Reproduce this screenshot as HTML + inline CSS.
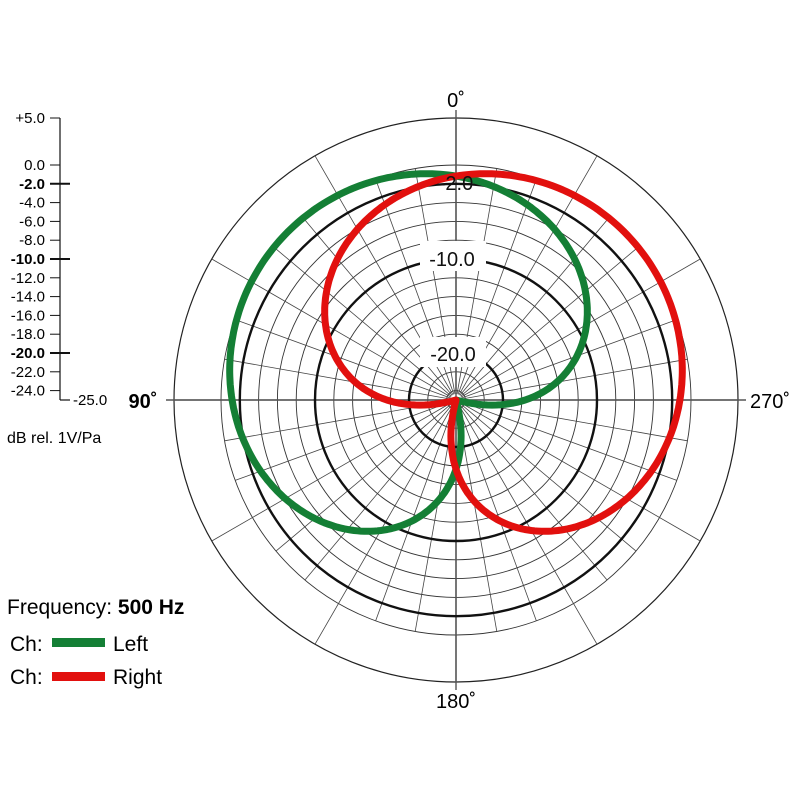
<!DOCTYPE html>
<html><head><meta charset="utf-8"><style>
html,body{margin:0;padding:0;background:#fff;width:800px;height:800px;overflow:hidden}
svg{display:block;font-family:"Liberation Sans",sans-serif}
</style></head><body>
<svg id="s" width="800" height="800" viewBox="0 0 800 800" xmlns="http://www.w3.org/2000/svg"></svg>
<script>
const s=document.getElementById('s');
const cx=456,cy=400,k=9.4,R=282;
let h='';
const rad=d=>(d+25)*k;
for(let d=-24;d<=0;d+=2){
  if(d==-2||d==-10||d==-20)continue;
  h+=`<circle cx="${cx}" cy="${cy}" r="${rad(d)}" fill="none" stroke="#333" stroke-width="0.9"/>`;
}
h+=`<circle cx="${cx}" cy="${cy}" r="${R}" fill="none" stroke="#222" stroke-width="1.2"/>`;
for(let a=0;a<360;a+=10){
  const t=a*Math.PI/180, r0=6, r1=(a%30==0)?R:rad(0);
  h+=`<line x1="${cx+r0*Math.sin(t)}" y1="${cy-r0*Math.cos(t)}" x2="${cx+r1*Math.sin(t)}" y2="${cy-r1*Math.cos(t)}" stroke="#444" stroke-width="${a%90==0?1.3:0.8}"/>`;
}
h+=`<line x1="${cx-R-8}" y1="${cy}" x2="${cx+R+8}" y2="${cy}" stroke="#555" stroke-width="1.4"/>`;
h+=`<line x1="${cx}" y1="${cy-R-8}" x2="${cx}" y2="${cy+R+8}" stroke="#555" stroke-width="1.4"/>`;
for(const d of [-2,-10,-20])h+=`<circle cx="${cx}" cy="${cy}" r="${rad(d)}" fill="none" stroke="#111" stroke-width="2.4"/>`;
h+=`<rect x="420" y="241" width="66" height="30" fill="#fff"/>`;
h+=`<rect x="420" y="337" width="66" height="30" fill="#fff"/>`;
function pat(t0,col){
  let p='';
  for(let a=0;a<=360;a+=1){
    const t=a*Math.PI/180;
    const g=Math.max(0.5+0.5*Math.cos((a-t0)*Math.PI/180),1e-6);
    let d=0.3+21.5*Math.log10(g); if(d<-25)d=-25;
    const r=rad(d);
    const x=cx-r*Math.sin(t), y=cy-r*Math.cos(t);
    p+=(a?'L':'M')+x.toFixed(1)+' '+y.toFixed(1);
  }
  return `<path d="${p}Z" fill="none" stroke="${col}" stroke-width="7" stroke-linejoin="round"/>`;
}
h+=pat(45,'#147f35');
h+=pat(315,'#e2100e');
h+=`<text x="${cx}" y="190" font-size="20" text-anchor="middle" fill="#111">-2.0</text>`;
h+=`<text x="452" y="266" font-size="20" text-anchor="middle" fill="#111">-10.0</text>`;
h+=`<text x="453" y="361" font-size="20" text-anchor="middle" fill="#111">-20.0</text>`;
h+=`<text x="456" y="107" font-size="20" text-anchor="middle">0˚</text>`;
h+=`<text x="143" y="408" font-size="20" font-weight="bold" text-anchor="middle">90˚</text>`;
h+=`<text x="770" y="408" font-size="20" text-anchor="middle">270˚</text>`;
h+=`<text x="456" y="708" font-size="20" text-anchor="middle">180˚</text>`;
h+=`<line x1="60" y1="118" x2="60" y2="400" stroke="#111" stroke-width="1.2"/>`;
h+=`<line x1="60" y1="400" x2="70" y2="400" stroke="#111" stroke-width="1.2"/>`;
const lab=[[5,'+5.0'],[0,'0.0']];for(let d=-2;d>=-24;d-=2)lab.push([d,d.toFixed(1)]);
for(const [d,t] of lab){
  const y=cy-rad(d), b=(d==-2||d==-10||d==-20);
  h+=`<line x1="50" y1="${y}" x2="${b?70:60}" y2="${y}" stroke="#111" stroke-width="${b?2:1}"/>`;
  h+=`<text x="45" y="${y+5}" font-size="15" text-anchor="end" ${b?'font-weight="bold"':''}>${t}</text>`;
}
h+=`<text x="73" y="405" font-size="15">-25.0</text>`;
h+=`<text x="7" y="443" font-size="16">dB rel. 1V/Pa</text>`;
h+=`<text x="7" y="614" font-size="21">Frequency: <tspan font-weight="bold">500 Hz</tspan></text>`;
h+=`<text x="10" y="651" font-size="21">Ch:</text><rect x="52" y="638" width="53" height="9" fill="#147f35"/><text x="113" y="651" font-size="21">Left</text>`;
h+=`<text x="10" y="684" font-size="21">Ch:</text><rect x="52" y="672" width="53" height="9" fill="#e2100e"/><text x="113" y="684" font-size="21">Right</text>`;
s.innerHTML=h;
</script>
</body></html>
